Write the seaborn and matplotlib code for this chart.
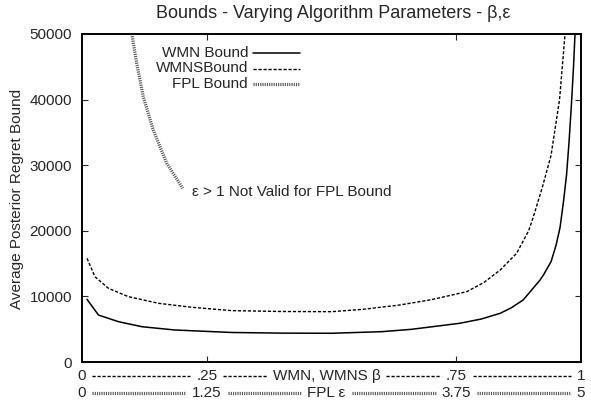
import numpy as np
import pandas as pd
import matplotlib
matplotlib.use("Agg")
import matplotlib.pyplot as plt
import seaborn as sns
from matplotlib.lines import Line2D
from matplotlib.transforms import blended_transform_factory

# ---- data ----
wmn_beta = [0.010, 0.033, 0.073, 0.120, 0.186, 0.300, 0.400, 0.500, 0.600, 0.660,
            0.757, 0.800, 0.838, 0.860, 0.884, 0.898, 0.918, 0.925, 0.940, 0.950,
            0.958, 0.965, 0.971, 0.976, 0.981, 0.985, 0.988]
wmn_val = [9560, 7160, 6150, 5380, 4880, 4500, 4400, 4380, 4620, 4980,
           5900, 6550, 7420, 8250, 9450, 10700, 12500, 13300, 15300, 17800,
           20500, 24500, 28500, 33500, 39500, 45000, 50000]

wmns_beta = [0.010, 0.026, 0.053, 0.093, 0.153, 0.220, 0.300, 0.400, 0.500, 0.563,
             0.637, 0.700, 0.771, 0.805, 0.838, 0.871, 0.895, 0.904, 0.922, 0.940,
             0.957, 0.968]
wmns_val = [15800, 13000, 11230, 9960, 8950, 8340, 7830, 7700, 7670, 8030,
            8690, 9500, 10720, 12100, 14020, 16570, 20000, 22000, 26500, 31500,
            40000, 50000]

fpl_eps = [0.500, 0.548, 0.614, 0.714, 0.849, 1.009]
fpl_val = [50000, 45530, 40440, 35370, 30290, 26480]

y_ticks = [0, 10000, 20000, 30000, 40000, 50000]
x_ticks = [0.25, 0.75]
row1_labels = ["0", ".25", "WMN, WMNS \u03b2", ".75", "1"]
row2_labels = ["0", "1.25", "FPL \u03b5", "3.75", "5"]
label_pos = [0.0, 0.25, 0.49, 0.75, 1.0]

title = "Bounds - Varying Algorithm Parameters - \u03b2,\u03b5"
ylabel = "Average Posterior Regret Bound"
note = "\u03b5 > 1 Not Valid for FPL Bound"
legend_labels = ["WMN Bound", "WMNSBound", "FPL Bound"]

# ---- styling ----
sns.set_style("ticks")
plt.rcParams['font.family'] = ['Liberation Sans', 'DejaVu Sans']
FS = 11
TFS = 13

W, H = 591, 404
fig = plt.figure(figsize=(W / 100, H / 100), dpi=100)
L, R, T, B = 82, 581, 34, 362
ax = fig.add_axes([L / W, 1 - B / H, (R - L) / W, (B - T) / H])

dash_style = (0, (2.3, 1.3))
fpl_color = '#555555'
fpl_style = (0, (0.35, 0.35))
fpl_lw = 2.3

df_wmn = pd.DataFrame({"beta": wmn_beta, "val": wmn_val})
df_wmns = pd.DataFrame({"beta": wmns_beta, "val": wmns_val})
df_fpl = pd.DataFrame({"eps": fpl_eps, "val": fpl_val})

sns.lineplot(data=df_wmn, x="beta", y="val", ax=ax, color='black', lw=1.1)
sns.lineplot(data=df_wmns, x="beta", y="val", ax=ax, color='black', lw=1.0,
             linestyle=dash_style)
ax.set_xlim(0, 1)
ax.set_ylim(0, 50000)

ax2 = ax.twiny()
sns.lineplot(data=df_fpl, x="eps", y="val", ax=ax2, color=fpl_color, lw=fpl_lw,
             linestyle=fpl_style)
ax2.set_xlim(0, 5)
ax2.set_ylim(0, 50000)
ax2.set_xticks([])
ax2.set_xlabel("")
ax2.text(1.10, 25900, note, fontsize=FS, ha='left', va='center')

for a in (ax, ax2):
    for s in a.spines.values():
        s.set_linewidth(1.2)
        s.set_color('black')

ax.set_xticks(x_ticks)
ax.set_xticklabels([])
ax.set_yticks(y_ticks)
ax.set_yticklabels([str(v) for v in y_ticks], fontsize=FS)
ax.tick_params(axis='both', direction='in', length=4, width=0.8,
               top=True, right=True, pad=7.2)
ax.set_xlabel("")
ax.set_ylabel("")

fig.text(333 / W, 1 - 13 / H, title, fontsize=TFS, ha='center', va='center')
fig.text(17 / W, 1 - 199 / H, ylabel, fontsize=FS, ha='center', va='center',
         rotation=90)

# legend (gnuplot style: right-aligned text, sample to the right)
leg_rows = [53, 68.5, 84]
leg_styles = [dict(color='black', lw=1.1, ls='-'),
              dict(color='black', lw=1.0, ls=dash_style),
              dict(color=fpl_color, lw=fpl_lw, ls=fpl_style)]
for lab, yy, st in zip(legend_labels, leg_rows, leg_styles):
    fig.text(248 / W, 1 - yy / H, lab, fontsize=FS, ha='right', va='center')
    fig.add_artist(Line2D([253 / W, 300 / W], [1 - yy / H, 1 - yy / H],
                          transform=fig.transFigure, **st))

# two-row parameter axis at the bottom
tr = blended_transform_factory(ax.transData, fig.transFigure)
rows = [(row1_labels, 1 - 376 / H, dict(color='black', lw=1.0, ls=dash_style)),
        (row2_labels, 1 - 393 / H, dict(color=fpl_color, lw=fpl_lw, ls=fpl_style))]
fig.canvas.draw()
renderer = fig.canvas.get_renderer()
for labels, yy, st in rows:
    texts = [ax.text(p, yy, lab, transform=tr, fontsize=FS, ha='center',
                     va='center', clip_on=False)
             for lab, p in zip(labels, label_pos)]
    fig.canvas.draw()
    bbs = [t.get_window_extent(renderer) for t in texts]
    for b0, b1 in zip(bbs[:-1], bbs[1:]):
        x0 = (b0.x1 + 6) / W
        x1 = (b1.x0 - 6) / W
        fig.add_artist(Line2D([x0, x1], [yy, yy], transform=fig.transFigure, **st))

fig.savefig("out.png", dpi=100)
